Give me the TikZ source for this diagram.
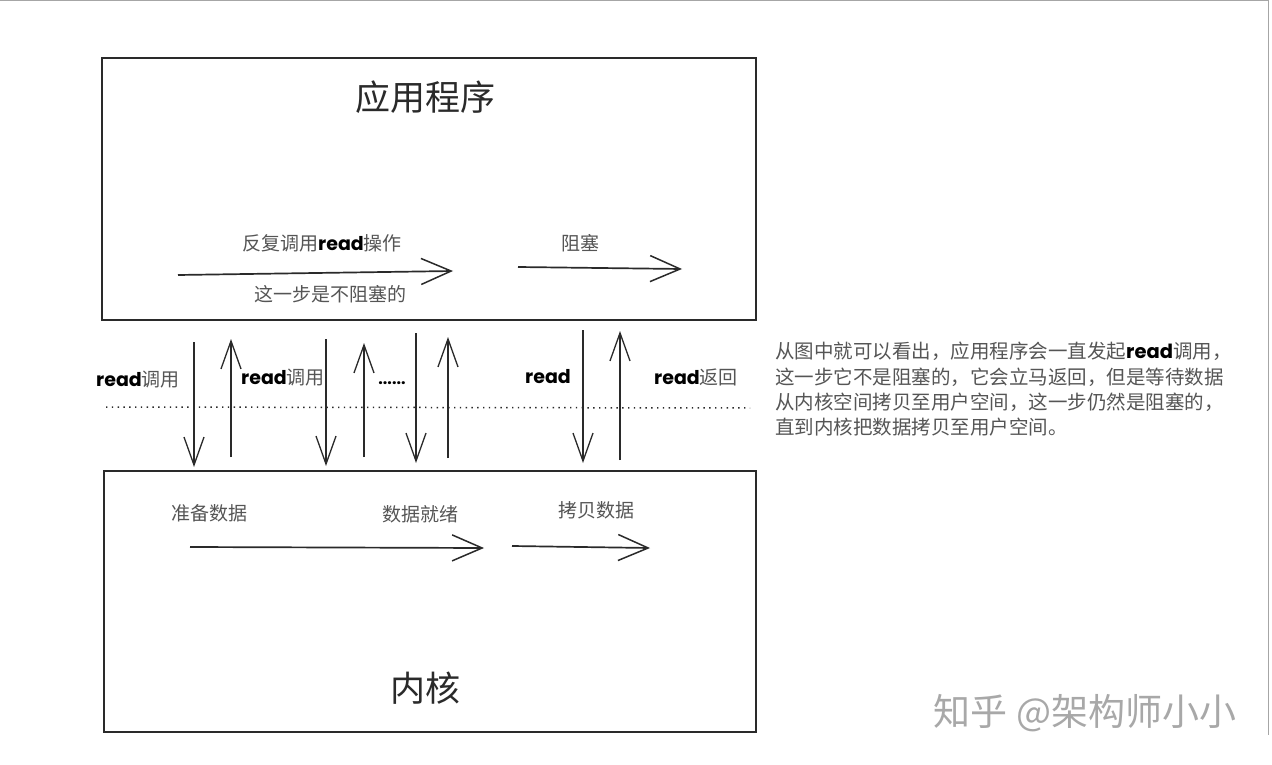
\documentclass[tikz,border=0pt]{standalone}
\usepackage{fontspec}
\setmainfont{Noto Sans CJK SC}
\newfontfamily\cjk{Noto Sans CJK SC}
\newfontfamily\hand{Poppins}
\usetikzlibrary{arrows.meta}
\definecolor{ink}{HTML}{2A2A2A}
\definecolor{txt}{HTML}{555555}
\definecolor{wm}{HTML}{A8A8A8}
\newcommand{\rd}{{\hand\bfseries\color{black}read}}
\tikzset{
  boxstyle/.style={draw=ink, line width=1.8pt},
  flow/.style={draw=ink, line width=1.7pt, -{Straight Barb[length=30pt, width=26pt, line width=1.5pt]}},
  vert/.style={draw=ink, line width=1.4pt, -{Straight Barb[length=28pt, width=20pt, line width=1.3pt]}},
  lbl/.style={font=\cjk\fontsize{19}{21}\selectfont, text=txt, inner sep=0pt},
  title/.style={font=\cjk\fontsize{35}{38}\selectfont, text=ink, inner sep=0pt}
}
\begin{document}
\begin{tikzpicture}[x=1pt, y=-1pt]
\useasboundingbox (0,0) rectangle (1272,765);
\fill[white] (0,0) rectangle (1272,765);
\draw[gray!70, line width=0.8pt] (0,0.5) -- (1268,0.5) -- (1268,735);

% boxes
\node[boxstyle, minimum width=654pt, minimum height=262pt, inner sep=0pt, anchor=north west] (app) at (101,57) {};
\node[boxstyle, minimum width=652pt, minimum height=261pt, inner sep=0pt, anchor=north west] (kern) at (103,470) {};
\node[title] (apptitle) at (425,97) {应用程序};
\node[title] (kerntitle) at (425,688) {内核};

% top arrows
\coordinate (a1s) at (178,275); \coordinate (a1e) at (453,271);
\draw[flow] (a1s) -- (a1e);
\node[lbl] (l1) at (322,243) {反复调用\rd{}操作};
\node[lbl] (l2) at (330,294) {这一步是不阻塞的};
\coordinate (a2s) at (518,267); \coordinate (a2e) at (682,269);
\draw[flow] (a2s) -- (a2e);
\node[lbl] (l3) at (580,243) {阻塞};

% dotted line
\coordinate (d1) at (106,407); \coordinate (d2) at (750,408);
\draw[ink, line width=1.5pt, dash pattern=on 1.4pt off 4.4pt] (d1) -- (d2);

% vertical arrows
\coordinate (v1a) at (194,342); \coordinate (v1b) at (194,467);
\coordinate (u1a) at (231,457); \coordinate (u1b) at (231,339);
\coordinate (v2a) at (326,339); \coordinate (v2b) at (326,466);
\coordinate (u2a) at (364,457); \coordinate (u2b) at (364,343);
\coordinate (v3a) at (416,333); \coordinate (v3b) at (416,463);
\coordinate (u3a) at (448,458); \coordinate (u3b) at (448,337);
\coordinate (v4a) at (583,330); \coordinate (v4b) at (583,463);
\coordinate (u4a) at (620,460); \coordinate (u4b) at (620,331);
\foreach \s/\e in {v1a/v1b,u1a/u1b,v2a/v2b,u2a/u2b,v3a/v3b,u3a/u3b,v4a/v4b,u4a/u4b}
  \draw[vert] (\s) -- (\e);

\node[lbl] (r1) at (138,380) {\rd{}调用};
\node[lbl] (r2) at (283,378) {\rd{}调用};
\node[font=\hand\bfseries\fontsize{16}{18}\selectfont, inner sep=0pt] (dots) at (392,383) {......};
\node[lbl] (r3) at (548,377) {\rd};
\node[lbl] (r4) at (696,377) {\rd{}返回};

% bottom arrows
\node[lbl] (b1) at (209,513) {准备数据};
\node[lbl] (b2) at (420,514) {数据就绪};
\node[lbl] (b3) at (596,510) {拷贝数据};
\coordinate (k1s) at (190,547); \coordinate (k1e) at (484,548);
\draw[flow] (k1s) -- (k1e);
\coordinate (k2s) at (512,546); \coordinate (k2e) at (650,548);
\draw[flow] (k2s) -- (k2e);

% explanation
\node[font=\cjk\fontsize{19.5}{25.4}\selectfont, text=txt, align=left, anchor=north west, inner sep=0pt] (expl) at (775,342)
{从图中就可以看出，应用程序会一直发起\rd{}调用，\\
这一步它不是阻塞的，它会立马返回，但是等待数据\\
从内核空间拷贝至用户空间，这一步仍然是阻塞的，\\
直到内核把数据拷贝至用户空间。};

% watermark
\node[font=\cjk\fontsize{37}{40}\selectfont, text=wm, inner sep=0pt] (mark) at (1085,713) {知乎 @架构师小小};
\end{tikzpicture}
\end{document}
